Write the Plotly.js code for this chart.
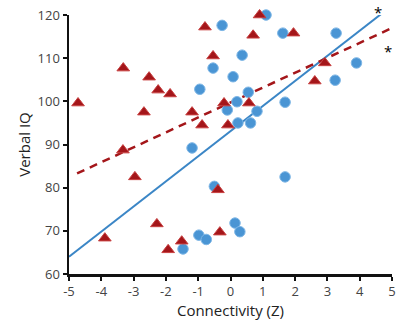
<!DOCTYPE html>
<html>
<head>
<meta charset="utf-8">
<script src="https://cdn.plot.ly/plotly-3.0.1.min.js"></script>
<style>html,body{margin:0;padding:0;background:#fff;}#chart{width:400px;height:324px;}</style>
</head>
<body>
<div id="chart"></div>
<script>
// Group A (blue circles)
const blueX = [-0.26, 1.1, 0.36, -0.54, 0.08, -0.95, 0.55, 0.2, -0.1, 0.82, 0.23, 0.62, -1.19, 1.62, 3.27, 3.9, 3.24, 1.69, 1.69, -0.5, -1.47, -0.98, -0.75, 0.14, 0.29];
const blueY = [117.6, 120, 110.7, 107.7, 105.7, 102.8, 102.1, 99.9, 98, 97.7, 95, 95, 89.2, 115.8, 115.8, 108.9, 104.9, 99.8, 82.5, 80.3, 65.8, 69, 68, 71.8, 69.8];
// Group B (red triangles)
const redX = [-4.72, -3.32, -2.52, -2.24, -1.87, -2.68, -1.19, -0.88, -3.33, -2.96, -3.89, -2.28, -1.93, -1.51, -0.33, -0.39, -0.79, 0.7, 0.9, -0.54, -0.2, 0.57, -0.08, 1.95, 2.92, 2.61];
const redY = [99.6, 107.7, 105.6, 102.6, 101.7, 97.5, 97.5, 94.5, 88.7, 82.5, 68.3, 71.6, 65.6, 67.6, 69.7, 79.5, 117.2, 115.3, 120, 110.5, 99.6, 99.6, 94.5, 115.8, 108.9, 104.7];
// Fit lines (endpoints)
const blueFitX = [-5, 4.9];
const blueFitY = [64, 121.6];
const redFitX = [-4.75, 5];
const redFitY = [83.3, 117];
// Significance markers (fraction of plot area)
const starX = [0.957, 0.988];
const starY = [1.013, 0.862];
const xTicks = [-5, -4, -3, -2, -1, 0, 1, 2, 3, 4, 5];
const yTicks = [60, 70, 80, 90, 100, 110, 120];

const traces = [
  {x: blueFitX, y: blueFitY, mode: 'lines', line: {color: '#3b86c6', width: 2}, hoverinfo: 'skip', cliponaxis: false},
  {x: redFitX, y: redFitY, mode: 'lines', line: {color: '#a4161a', width: 2.5, dash: '8px,6px'}, hoverinfo: 'skip'},
  {x: blueX, y: blueY, mode: 'markers', cliponaxis: false, marker: {symbol: 'circle', size: 10.5, color: '#4a95d4', line: {color: '#7db6e6', width: 1}}},
  {x: redX, y: redY, mode: 'markers', cliponaxis: false, marker: {symbol: 'triangle-up', size: 11, color: '#a4161a', line: {color: '#c84040', width: 1}}}
];

const layout = {
  width: 400, height: 324,
  margin: {l: 69, r: 8, t: 15, b: 50},
  paper_bgcolor: '#fff', plot_bgcolor: '#fff',
  showlegend: false,
  font: {family: 'Open Sans, Liberation Sans, sans-serif', color: '#333'},
  xaxis: {
    range: [-5, 5], tickvals: xTicks, ticktext: xTicks.map(v => v < 0 ? '-' + Math.abs(v) : String(v)),
    showgrid: false, zeroline: false, showline: true, linecolor: '#111', linewidth: 2.5,
    ticks: 'outside', ticklen: 4, tickwidth: 2, tickcolor: '#111',
    tickfont: {size: 13, color: '#444'},
    title: {text: 'Connectivity (Z)', font: {size: 15, color: '#222'}, standoff: 6}
  },
  yaxis: {
    range: [60, 120], tickvals: yTicks,
    showgrid: false, zeroline: false, showline: true, linecolor: '#111', linewidth: 2.5,
    ticks: 'outside', ticklen: 4, tickwidth: 2, tickcolor: '#111',
    tickfont: {size: 13, color: '#444'},
    title: {text: 'Verbal IQ', font: {size: 15, color: '#222'}, standoff: 4}
  },
  annotations: starX.map((x, i) => ({xref: 'paper', yref: 'paper', x: x, y: starY[i], text: '*', showarrow: false, font: {size: 15, color: '#000'}, xanchor: 'center', yanchor: 'middle'}))
};

Plotly.newPlot('chart', traces, layout, {staticPlot: true});
</script>
</body>
</html>
